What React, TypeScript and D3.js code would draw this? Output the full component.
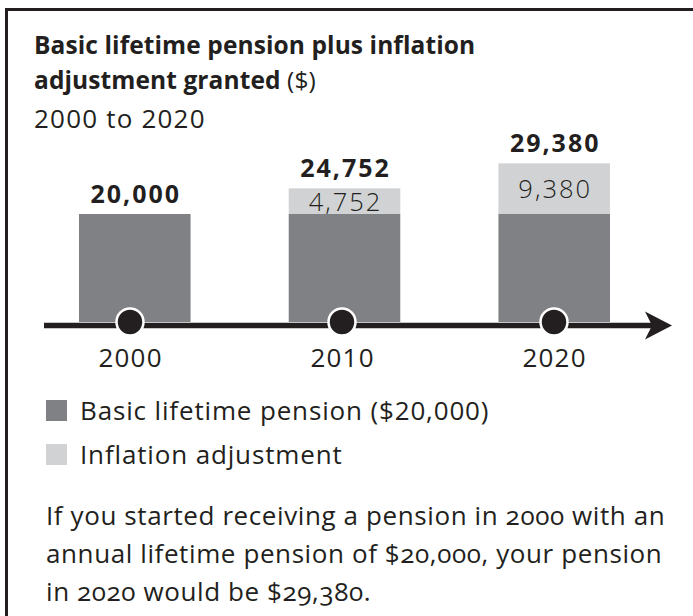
import React from "react";
import * as d3 from "d3";

const years = ["2000", "2010", "2020"];
const yearValues = [2000, 2010, 2020];
const basicPension = [20000, 20000, 20000];
const inflationAdj = [0, 4752, 9380];
const totals = [20000, 24752, 29380];

const titleLine1 = "Basic lifetime pension plus inflation";
const titleLine2Bold = "adjustment granted";
const titleLine2Unit = " ($)";
const subtitle = "2000 to 2020";
const legendLabels = ["Basic lifetime pension ($20,000)", "Inflation adjustment"];
const noteLines = [
  "If you started receiving a pension in 2000 with an",
  "annual lifetime pension of $20,000, your pension",
  "in 2020 would be $29,380.",
];

const W = 693;
const H = 616;
const DARK = "#808184";
const LIGHT = "#d1d2d4";
const INK = "#231f20";
const FONT = "'Open Sans', sans-serif";

export default function App() {
  const x = d3.scaleBand<string>().domain(years).range([79, 610]).paddingInner(0.468).paddingOuter(0);
  const y = d3.scaleLinear().domain([0, 30000]).range([322, 160]);
  const t = d3.scaleLinear().domain([2000, 2020]).range([130, 554]);
  const fmt = d3.format(",");
  const axisY = 325.5;
  const axisStart = 44;
  const arrowTip = 672;

  return (
    <svg
      width={W}
      height={H}
      style={{ position: "absolute", left: 0, top: 0, background: "#fff" }}
      fontFamily={FONT}
    >
      <rect x={0} y={0} width={W} height={H} fill="#fff" />
      <path d={`M6.5,${H + 10} V9.5 H${W + 10}`} fill="none" stroke={INK} strokeWidth={3} />

      <text x={34} y={54} fontSize={24.5} fontWeight={700} letterSpacing={0.1} fill={INK}>{titleLine1}</text>
      <text x={34} y={89} fontSize={24.5} letterSpacing={0.1} fill={INK}>
        <tspan fontWeight={700}>{titleLine2Bold}</tspan>
        <tspan fontWeight={400}>{titleLine2Unit}</tspan>
      </text>
      <text x={34} y={128} fontSize={26} letterSpacing={1.2} fill={INK}>{subtitle}</text>

      {years.map((yr, i) => {
        const bx = x(yr)!;
        const bw = x.bandwidth();
        const cx = bx + bw / 2;
        const yb = y(basicPension[i]);
        const yt = y(basicPension[i] + inflationAdj[i]);
        return (
          <g key={yr}>
            <rect x={bx} y={yb} width={bw} height={y(0) - yb} fill={DARK} />
            {inflationAdj[i] > 0 && (
              <rect x={bx} y={yt} width={bw} height={yb - yt} fill={LIGHT} />
            )}
            {inflationAdj[i] > 0 && (
              <text
                x={cx + 1}
                y={(yt + yb) / 2 + 9.5}
                textAnchor="middle"
                fontSize={25.5}
                fontWeight={300}
                letterSpacing={2}
                fill={INK}
              >
                {fmt(inflationAdj[i])}
              </text>
            )}
            <text
              x={cx + 1}
              y={y(totals[i]) - 11}
              textAnchor="middle"
              fontSize={25}
              fontWeight={700}
              letterSpacing={2}
              fill={INK}
            >
              {fmt(totals[i])}
            </text>
          </g>
        );
      })}

      <line x1={axisStart} x2={arrowTip - 20} y1={axisY} y2={axisY} stroke={INK} strokeWidth={5.5} />
      <path
        d={`M${arrowTip},${axisY} L${arrowTip - 27},${axisY - 14} L${arrowTip - 20},${axisY} L${arrowTip - 27},${axisY + 14} Z`}
        fill={INK}
      />

      {yearValues.map((v, i) => (
        <g key={v}>
          <circle cx={t(v)} cy={322} r={13.5} fill={INK} stroke="#fff" strokeWidth={2.5} />
          <text x={t(v) + 0.6} y={367} textAnchor="middle" fontSize={26} letterSpacing={1.2} fill={INK}>
            {years[i]}
          </text>
        </g>
      ))}

      {legendLabels.map((lab, i) => (
        <g key={lab}>
          <rect x={46} y={400 + i * 44} width={21} height={21} fill={i === 0 ? DARK : LIGHT} />
          <text x={80} y={420 + i * 44} fontSize={26} letterSpacing={0.85} fill={INK}>{lab}</text>
        </g>
      ))}

      {noteLines.map((ln, i) => (
        <text
          key={i}
          x={46}
          y={525 + i * 38}
          fontSize={26}
          letterSpacing={0.6}
          fill={INK}
          style={{ fontVariantNumeric: "oldstyle-nums" }}
        >
          {ln}
        </text>
      ))}
    </svg>
  );
}
